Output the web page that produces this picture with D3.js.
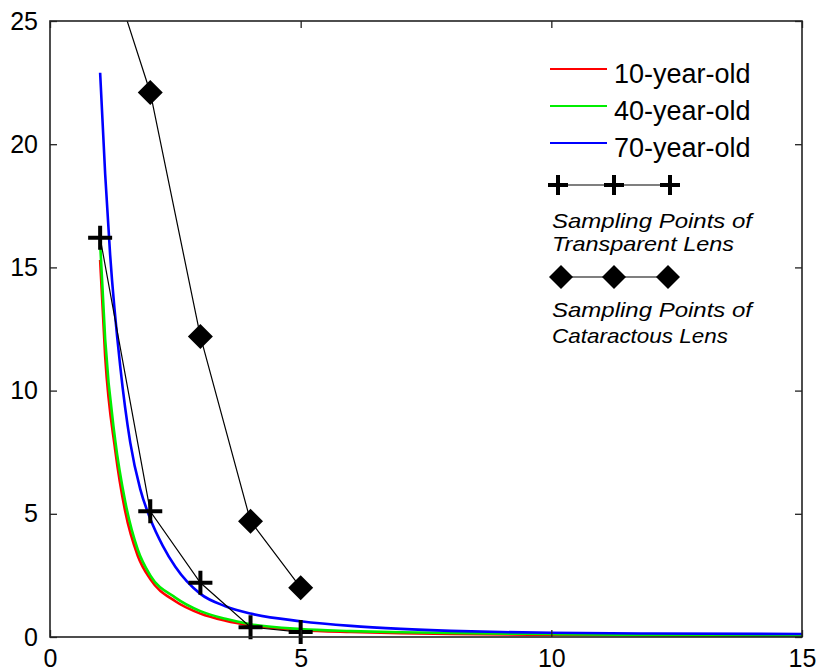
<!DOCTYPE html>
<html>
<head>
<meta charset="utf-8">
<script src="https://cdn.jsdelivr.net/npm/d3@7"></script>
<style>
  html, body { margin: 0; padding: 0; background: #fff; }
  svg { display: block; font-family: "Liberation Sans", Arial, sans-serif; }
</style>
</head>
<body>
<svg id="chart" width="819" height="671"></svg>
<script>
// Simulated curves for three ages: [x, y] samples
const curve10 = [[1,15.3],[1.1,11.4],[1.3,7.6],[1.5,5.1],[1.75,3.3],[2,2.35],[2.5,1.45],[3,0.95],[3.5,0.66],[4,0.47],[5,0.28],[6,0.2],[7,0.15],[8,0.12],[10,0.09],[12,0.07],[15,0.05]];
const curve40 = [[1,16.0],[1.1,12.1],[1.3,8.0],[1.5,5.5],[1.75,3.55],[2,2.5],[2.5,1.6],[3,1.05],[3.5,0.74],[4,0.52],[5,0.32],[6,0.24],[7,0.19],[8,0.16],[10,0.12],[12,0.08],[15,0.06]];
const curve70 = [[1,22.9],[1.1,18.8],[1.2,15.5],[1.4,11.0],[1.6,7.9],[1.8,6.0],[2,4.8],[2.25,3.7],[2.5,2.85],[3,1.75],[3.5,1.25],[4,0.95],[5,0.64],[6,0.45],[7,0.33],[8,0.25],[9,0.2],[10,0.17],[12,0.14],[15,0.12]];

// Sampling points
const sampleX = [1, 2, 3, 4, 5];
const transparentY = [16.2, 5.1, 2.2, 0.4, 0.2];
const cataractY = [28.4, 22.1, 12.2, 4.7, 2.0];

// Axes ticks
const xTicks = [0, 5, 10, 15];
const yTicks = [0, 5, 10, 15, 20, 25];

const legendAges = ["10-year-old", "40-year-old", "70-year-old"];
const ageColors = ["#ff0000", "#00ee00", "#0000ff"];

const svg = d3.select("#chart");
const L = 50, R = 802, T = 21, B = 637;
const x = d3.scaleLinear().domain([0, 15]).range([L, R]);
const y = d3.scaleLinear().domain([0, 25]).range([B, T]);

svg.append("defs").append("clipPath").attr("id", "plotClip")
  .append("rect").attr("x", L).attr("y", T).attr("width", R - L).attr("height", B - T);

const plot = svg.append("g").attr("clip-path", "url(#plotClip)");

const smooth = d3.line().x(d => x(d[0])).y(d => y(d[1])).curve(d3.curveMonotoneX);
[curve10, curve40, curve70].forEach((c, i) => {
  plot.append("path").attr("d", smooth(c)).attr("fill", "none")
    .attr("stroke", ageColors[i]).attr("stroke-width", 2.6);
});

const straight = d3.line().x(d => x(d[0])).y(d => y(d[1]));
const transPts = sampleX.map((v, i) => [v, transparentY[i]]);
const catPts = sampleX.map((v, i) => [v, cataractY[i]]);
plot.append("path").attr("d", straight(transPts)).attr("fill", "none")
  .attr("stroke", "#000").attr("stroke-width", 1.2);
plot.append("path").attr("d", straight(catPts)).attr("fill", "none")
  .attr("stroke", "#000").attr("stroke-width", 1.2);

// Markers (only those within the y range)
function drawCross(g, cx, cy, s) {
  g.append("path")
    .attr("d", `M${cx - s},${cy}H${cx + s}M${cx},${cy - s}V${cy + s}`)
    .attr("stroke", "#000").attr("stroke-width", 4).attr("fill", "none");
}
function drawDiamond(g, cx, cy, s) {
  g.append("path")
    .attr("d", `M${cx},${cy - s}L${cx + s},${cy}L${cx},${cy + s}L${cx - s},${cy}Z`)
    .attr("fill", "#000");
}
const marks = svg.append("g");
transPts.filter(d => d[1] <= 25).forEach(d => drawCross(marks, x(d[0]), y(d[1]), 12));
catPts.filter(d => d[1] <= 25).forEach(d => drawDiamond(marks, x(d[0]), y(d[1]), 12.5));

// Box frame
svg.append("rect").attr("x", L).attr("y", T).attr("width", R - L).attr("height", B - T)
  .attr("fill", "none").attr("stroke", "#222").attr("stroke-width", 1.6);

// Axes with inward ticks on all sides
const fontSize = 25;
const axB = svg.append("g").attr("transform", `translate(0,${B})`)
  .call(d3.axisBottom(x).tickValues(xTicks).tickSizeInner(-7).tickSizeOuter(0).tickPadding(12));
const axT = svg.append("g").attr("transform", `translate(0,${T})`)
  .call(d3.axisTop(x).tickValues(xTicks).tickSizeInner(-7).tickSizeOuter(0).tickFormat(""));
const axL = svg.append("g").attr("transform", `translate(${L},0)`)
  .call(d3.axisLeft(y).tickValues(yTicks).tickSizeInner(-7).tickSizeOuter(0).tickPadding(12));
const axR = svg.append("g").attr("transform", `translate(${R},0)`)
  .call(d3.axisRight(y).tickValues(yTicks).tickSizeInner(-7).tickSizeOuter(0).tickFormat(""));
[axB, axT, axL, axR].forEach(a => {
  a.select(".domain").remove();
  a.selectAll(".tick line").attr("stroke", "#222").attr("stroke-width", 1.3);
  a.selectAll(".tick text").attr("font-size", fontSize).attr("fill", "#000")
    .attr("font-family", '"Liberation Sans", Arial, sans-serif');
});
axB.selectAll(".tick text").attr("dy", "0.71em");

// Legend
const lg = svg.append("g");
legendAges.forEach((name, i) => {
  const ly = 69 + i * 37;
  lg.append("line").attr("x1", 550).attr("x2", 607).attr("y1", ly).attr("y2", ly)
    .attr("stroke", ageColors[i]).attr("stroke-width", 2.2);
  lg.append("text").attr("x", 614).attr("y", ly + 13.5).attr("font-size", 27).text(name);
});
const lgX = [558, 614, 670];
lg.append("line").attr("x1", lgX[0]).attr("x2", lgX[2]).attr("y1", 185).attr("y2", 185)
  .attr("stroke", "#000").attr("stroke-width", 1.2);
lgX.forEach(px => drawCross(lg, px, 185, 10));
lg.append("line").attr("x1", lgX[0] + 2).attr("x2", lgX[2] - 2).attr("y1", 277).attr("y2", 277)
  .attr("stroke", "#000").attr("stroke-width", 1.2);
[lgX[0] + 3, lgX[1], lgX[2] - 2].forEach(px => drawDiamond(lg, px, 277, 12));

const italicLines = [
  ["Sampling Points of", 228, 200],
  ["Transparent Lens", 250.5, 182],
  ["Sampling Points of", 317, 200],
  ["Cataractous Lens", 343, 176]
];
italicLines.forEach(([t, by, w]) => {
  lg.append("text").attr("x", 552).attr("y", by).attr("font-size", 21)
    .attr("font-style", "italic").attr("textLength", w).attr("lengthAdjust", "spacingAndGlyphs")
    .text(t);
});
</script>
</body>
</html>
